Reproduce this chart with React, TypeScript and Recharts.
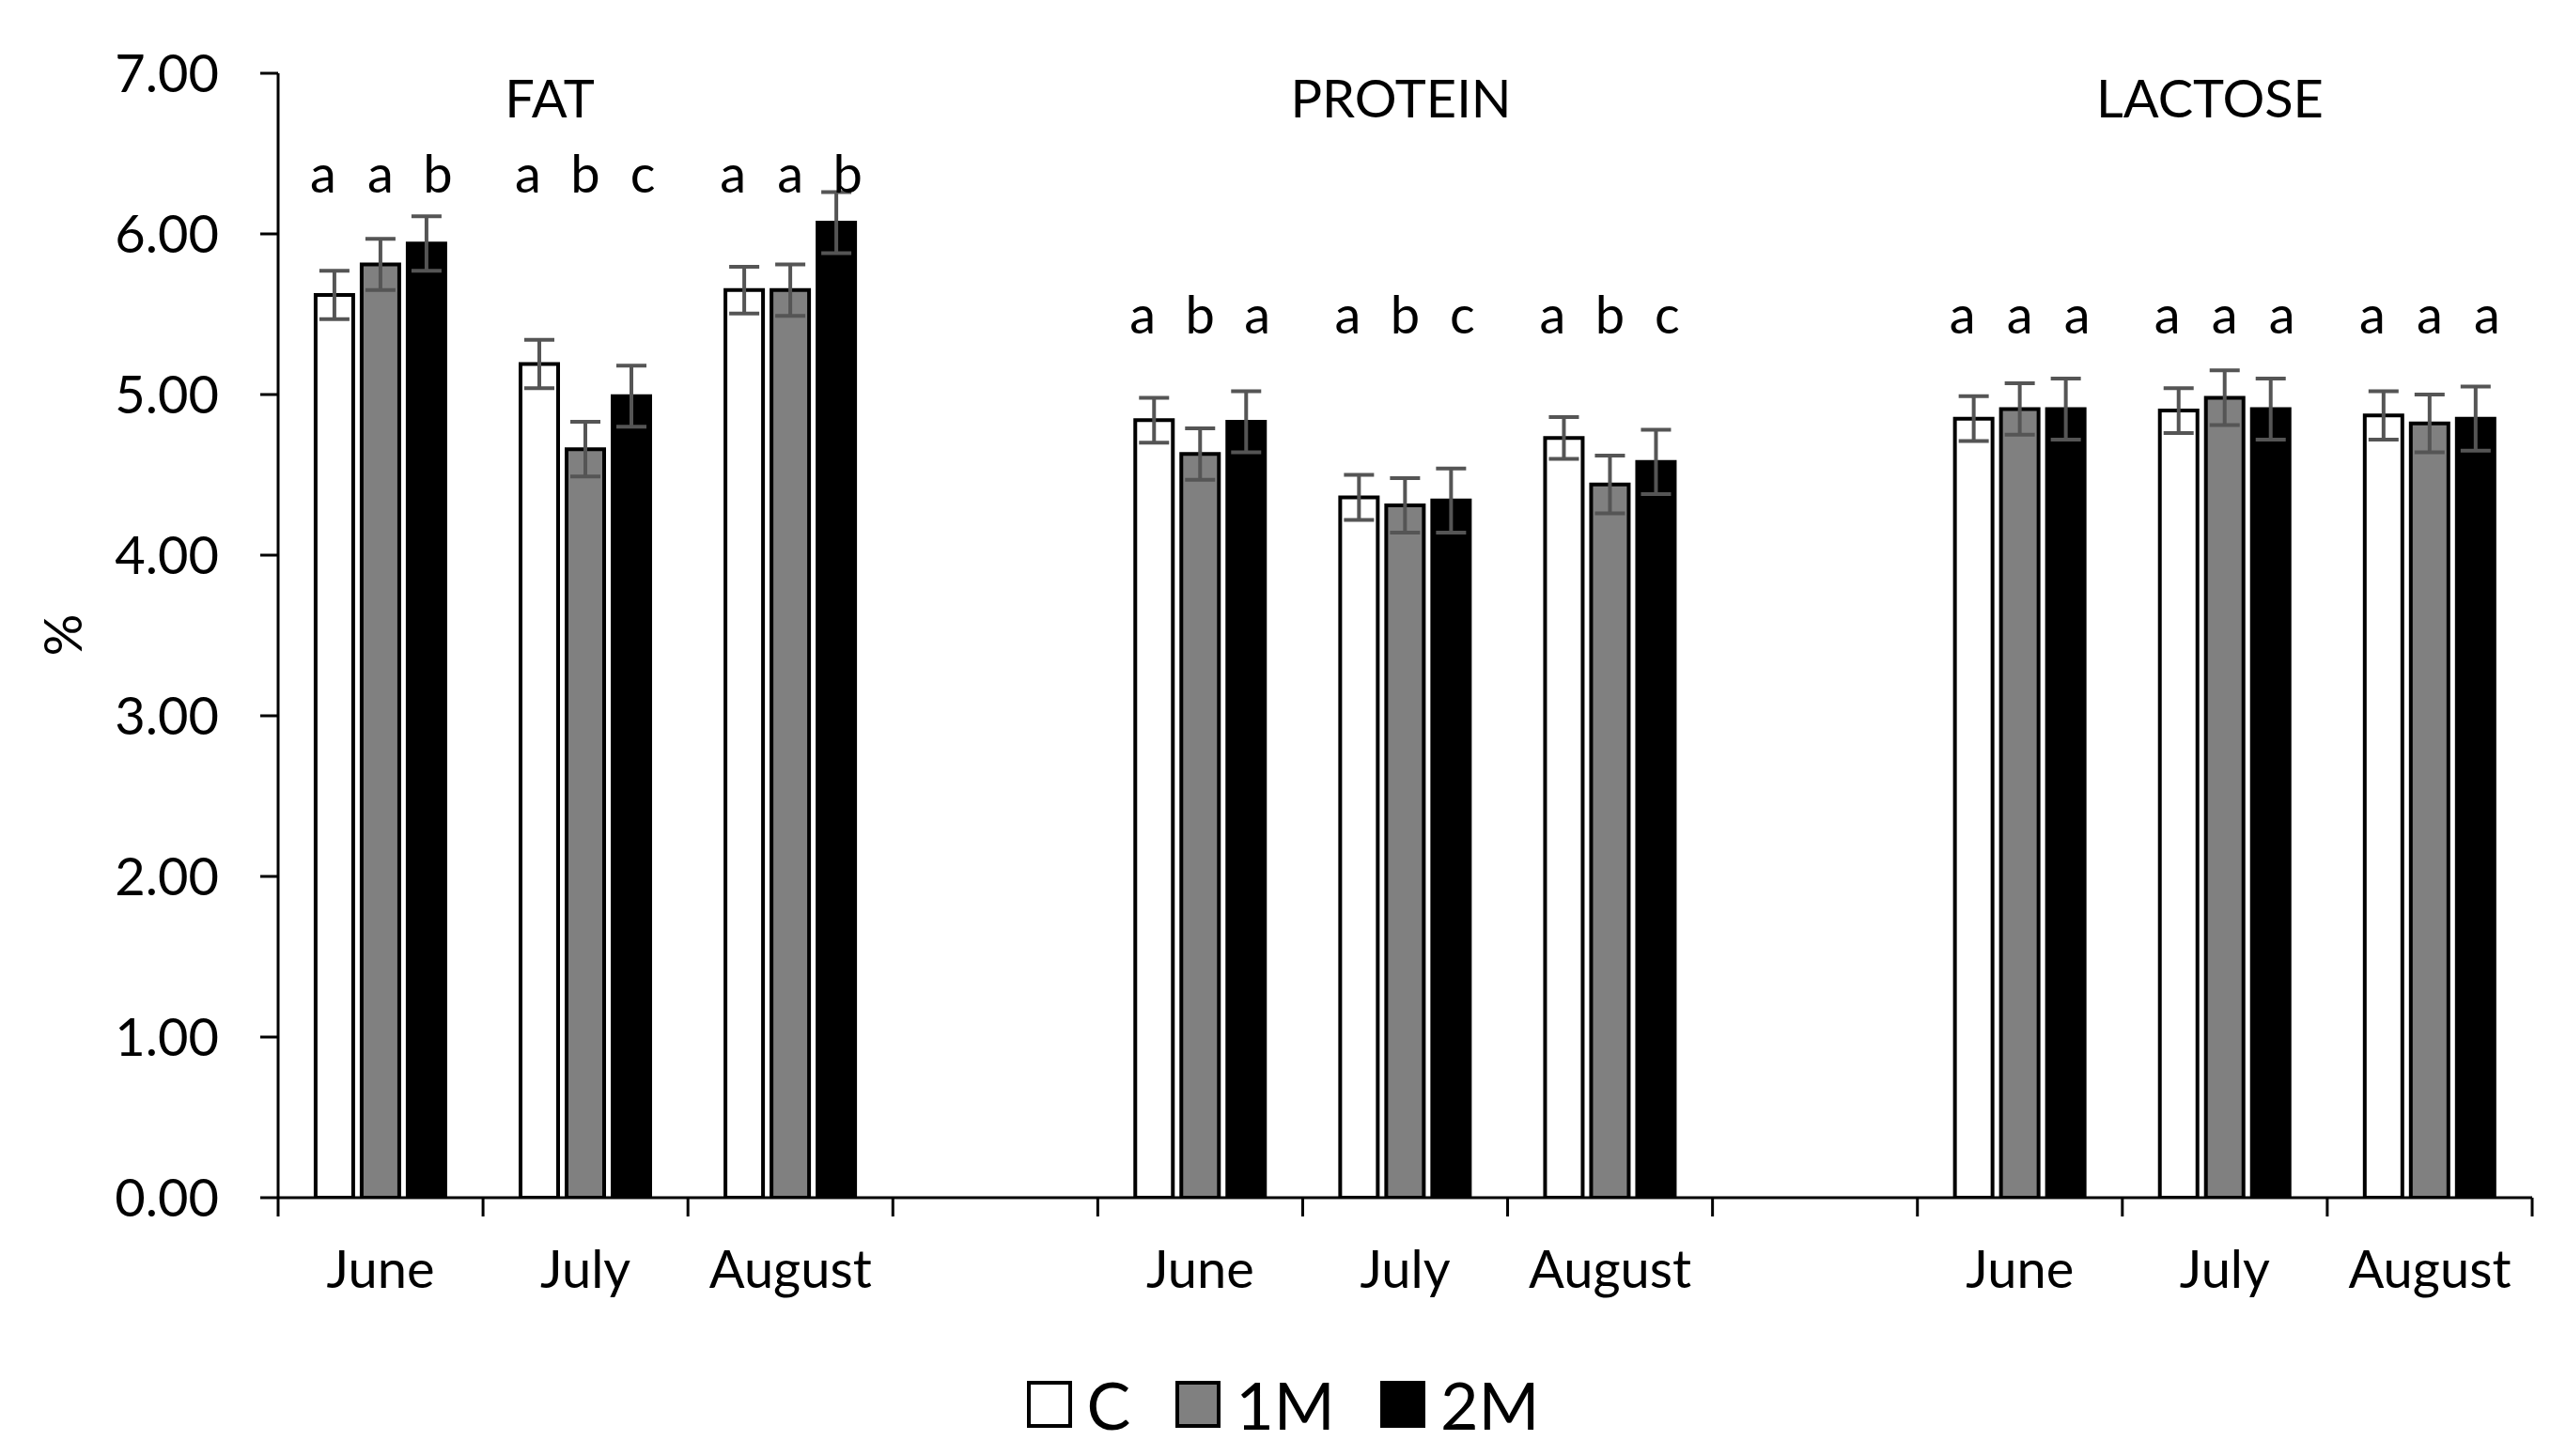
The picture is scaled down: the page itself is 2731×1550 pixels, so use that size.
import React from "react";
import { BarChart, Bar, XAxis, YAxis, ErrorBar, Legend } from "recharts";

// ---------- data ----------
const nutrients = ["FAT", "PROTEIN", "LACTOSE"];
const months = ["June", "July", "August"];
const seriesNames = ["C", "1M", "2M"];
const seriesFills = ["#ffffff", "#808080", "#000000"];

// means, in order FAT(June, July, August), PROTEIN(...), LACTOSE(...)
const cMean = [5.62, 5.19, 5.65, 4.84, 4.36, 4.73, 4.85, 4.9, 4.87];
const m1Mean = [5.81, 4.66, 5.65, 4.63, 4.31, 4.44, 4.91, 4.98, 4.82];
const m2Mean = [5.94, 4.99, 6.07, 4.83, 4.34, 4.58, 4.91, 4.91, 4.85];
const cErr = [0.15, 0.15, 0.145, 0.14, 0.14, 0.13, 0.14, 0.14, 0.15];
const m1Err = [0.16, 0.17, 0.16, 0.16, 0.17, 0.18, 0.16, 0.17, 0.18];
const m2Err = [0.17, 0.19, 0.19, 0.19, 0.2, 0.2, 0.19, 0.19, 0.2];
const cLetters = ["a", "a", "a", "a", "a", "a", "a", "a", "a"];
const m1Letters = ["a", "b", "a", "b", "b", "b", "a", "a", "a"];
const m2Letters = ["b", "c", "b", "a", "c", "c", "a", "a", "a"];
const letterLevel = [6.26, 5.38, 5.38]; // baseline level of letters per nutrient
const yTicks = [0, 1, 2, 3, 4, 5, 6, 7];

type Row = {
  key: string;
  label: string;
  c: number | null;
  m1: number | null;
  m2: number | null;
  cE: number | null;
  m1E: number | null;
  m2E: number | null;
  letters: string[] | null;
  level: number | null;
};

const rows: Row[] = [];
nutrients.forEach((n, g) => {
  if (g > 0) {
    rows.push({ key: "gap" + g, label: "", c: null, m1: null, m2: null, cE: null, m1E: null, m2E: null, letters: null, level: null });
  }
  months.forEach((m, k) => {
    const i = g * 3 + k;
    rows.push({
      key: n + "-" + m,
      label: m,
      c: cMean[i],
      m1: m1Mean[i],
      m2: m2Mean[i],
      cE: cErr[i],
      m1E: m1Err[i],
      m2E: m2Err[i],
      letters: [cLetters[i], m1Letters[i], m2Letters[i]],
      level: letterLevel[g],
    });
  });
});

// ---------- layout ----------
const W = 2731;
const H = 1550;
const PLOT_LEFT = 296;
const PLOT_RIGHT = 2695;
const PLOT_TOP = 78;
const PLOT_BOTTOM = 1275;
const X_AXIS_H = 100;
const BAND = (PLOT_RIGHT - PLOT_LEFT) / rows.length;
const FONT = "Lato, 'Open Sans', 'Noto Sans', sans-serif";

const XTick = (props: any) => {
  const { x, y, payload, index } = props;
  const idx = payload && typeof payload.index === "number" ? payload.index : index;
  const row = rows[idx];
  const left = x - BAND / 2;
  const right = x + BAND / 2;
  return (
    <g>
      <line x1={left} x2={left} y1={y} y2={y + 20} stroke="#000" strokeWidth={3} />
      {idx === rows.length - 1 && (
        <line x1={right} x2={right} y1={y} y2={y + 20} stroke="#000" strokeWidth={3} />
      )}
      {row && row.label && (
        <text x={x} y={y + 96} textAnchor="middle" fontSize={56} fontFamily={FONT} fill="#000">
          {row.label}
        </text>
      )}
    </g>
  );
};

const makeLetter = (slot: number) => (p: any) => {
  const { x, y, width, height, value } = p;
  if (value == null || !height) return null;
  const cxBar = x + width / 2;
  const idx = Math.floor((cxBar - PLOT_LEFT) / BAND);
  const row = rows[idx];
  if (!row || !row.letters) return null;
  const base = y + height;
  const ly = base - (row.level as number) * (height / value);
  const cx = cxBar + (slot - 1) * 12;
  return (
    <text key={"l" + slot + "-" + idx} x={cx} y={ly} textAnchor="middle" fontSize={56} fontFamily={FONT} fill="#000">
      {row.letters[slot]}
    </text>
  );
};

const LegendContent = () => (
  <div
    style={{
      display: "flex",
      justifyContent: "center",
      alignItems: "center",
      width: "100%",
      height: "100%",
      fontFamily: FONT,
      fontSize: 70,
      color: "#000",
    }}
  >
    {seriesNames.map((name, i) => (
      <div key={name} style={{ display: "flex", alignItems: "center", marginLeft: i === 0 ? 0 : 48 }}>
        <div
          style={{
            width: 40,
            height: 42,
            background: seriesFills[i],
            border: "4px solid #000",
          }}
        />
        <span style={{ marginLeft: 16, lineHeight: 1 }}>{name}</span>
      </div>
    ))}
  </div>
);

const titleX = [585, 1491, 2352];

export default function App() {
  return (
    <div style={{ position: "absolute", left: 0, top: 0, width: W, height: H, background: "#fff" }}>
      <BarChart
        width={W}
        height={H}
        data={rows}
        margin={{ top: PLOT_TOP, right: W - PLOT_RIGHT, left: 0, bottom: H - PLOT_BOTTOM - X_AXIS_H }}
        barCategoryGap="18.3%"
        barGap={9}
      >
        <XAxis
          dataKey="key"
          type="category"
          height={X_AXIS_H}
          interval={0}
          tickLine={false}
          tickSize={0}
          tickMargin={0}
          axisLine={{ stroke: "#000", strokeWidth: 3 }}
          tick={<XTick />}
        />
        <YAxis
          type="number"
          domain={[0, 7]}
          ticks={yTicks}
          width={PLOT_LEFT}
          tickSize={19}
          tickMargin={44}
          tickFormatter={(v: number) => v.toFixed(2)}
          axisLine={{ stroke: "#000", strokeWidth: 3 }}
          tickLine={{ stroke: "#000", strokeWidth: 3 }}
          tick={{ fill: "#000", fontSize: 56, fontFamily: FONT }}
          allowDataOverflow
        />
        <Bar dataKey="c" name="C" fill={seriesFills[0]} stroke="#000" strokeWidth={4} isAnimationActive={false} label={makeLetter(0)}>
          <ErrorBar dataKey="cE" direction="y" width={16} stroke="#555555" strokeWidth={4} />
        </Bar>
        <Bar dataKey="m1" name="1M" fill={seriesFills[1]} stroke="#000" strokeWidth={4} isAnimationActive={false} label={makeLetter(1)}>
          <ErrorBar dataKey="m1E" direction="y" width={16} stroke="#555555" strokeWidth={4} />
        </Bar>
        <Bar dataKey="m2" name="2M" fill={seriesFills[2]} stroke="#000" strokeWidth={4} isAnimationActive={false} label={makeLetter(2)}>
          <ErrorBar dataKey="m2E" direction="y" width={16} stroke="#555555" strokeWidth={4} />
        </Bar>
        <Legend
          layout="horizontal"
          verticalAlign="middle"
          align="center"
          content={<LegendContent />}
          wrapperStyle={{ position: "absolute", left: 0, top: 1440, width: W, height: 110 }}
        />
        {nutrients.map((n, i) => (
          <text key={n} x={titleX[i]} y={125} textAnchor="middle" fontSize={56} fontFamily={FONT} fill="#000">
            {n}
          </text>
        ))}
        <text x={87} y={676} textAnchor="middle" fontSize={56} fontFamily={FONT} fill="#000" transform="rotate(-90 87 676)">
          %
        </text>
      </BarChart>
    </div>
  );
}
